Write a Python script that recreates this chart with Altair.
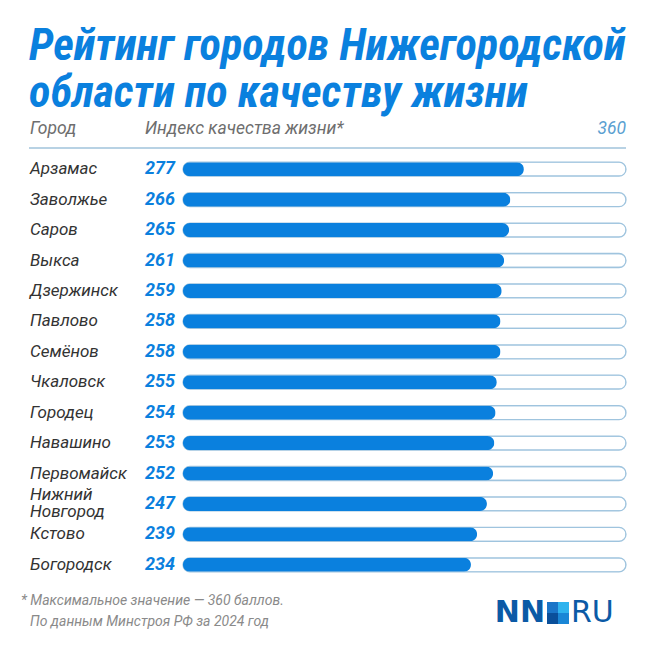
import altair as alt
import pandas as pd

# Quality-of-life index for towns of the Nizhny Novgorod region
cities = ["Арзамас", "Заволжье", "Саров", "Выкса", "Дзержинск", "Павлово", "Семёнов",
          "Чкаловск", "Городец", "Навашино", "Первомайск", "Нижний Новгород", "Кстово", "Богородск"]
labels = ["Арзамас", "Заволжье", "Саров", "Выкса", "Дзержинск", "Павлово", "Семёнов",
          "Чкаловск", "Городец", "Навашино", "Первомайск", "Нижний\nНовгород", "Кстово", "Богородск"]
values = [277, 266, 265, 261, 259, 258, 258, 255, 254, 253, 252, 247, 239, 234]
max_value = 360

title_lines = ["Рейтинг городов Нижегородской", "области по качеству жизни"]
footnotes = ["* Максимальное значение — 360 баллов.", "По данным Минстроя РФ за 2024 год"]

BLUE = "#0a80de"
FONT = "Roboto"
TITLE_FONT = "Liberation Sans Narrow, Roboto Condensed, Roboto"

df = pd.DataFrame({"city": cities, "label": labels, "value": values, "max": max_value})
df["lines"] = df["label"].str.count("\n") + 1

W, H = 443, 426
y = alt.Y("city:N", sort=cities, axis=None, scale=alt.Scale(paddingInner=0, paddingOuter=0))
x_scale = alt.Scale(domain=[0, max_value], nice=False, zero=True)

base = alt.Chart(df)

track = base.mark_bar(size=14, cornerRadius=7, fill="white", stroke="#9fc4de", strokeWidth=1.3).encode(
    x=alt.X("max:Q", scale=x_scale, axis=None), x2=alt.value(0), y=y
)
bars = base.mark_bar(size=14, cornerRadius=7, color=BLUE).encode(
    x=alt.X("value:Q", scale=x_scale, axis=None), x2=alt.value(0), y=y
)
value_text = base.mark_text(align="right", baseline="middle", font=FONT, fontSize=18,
                            fontWeight="bold", fontStyle="italic", color=BLUE).encode(
    x=alt.value(-8), y=y, text=alt.Text("value:Q")
)
city_style = dict(align="left", baseline="middle", font=FONT, fontSize=17, fontStyle="italic",
                  color="#333333", lineBreak="\n", lineHeight=17)
city_text = base.transform_filter("datum.lines == 1").mark_text(**city_style).encode(
    x=alt.value(-153), y=y, text="label:N"
)
# two-line name, shifted up so the block is centred on its row
city_text2 = base.transform_filter("datum.lines == 2").mark_text(dy=-8.5, **city_style).encode(
    x=alt.value(-153), y=y, text="label:N"
)

def txt(text, x, yv, size, color, align="left", weight="normal", style="italic",
        baseline="middle", font=FONT):
    return alt.Chart(pd.DataFrame({"t": [text]})).mark_text(
        align=align, baseline=baseline, font=font, fontSize=size, fontWeight=weight,
        fontStyle=style, color=color
    ).encode(x=alt.value(x), y=alt.value(yv), text="t:N")

title1 = txt(title_lines[0], -154, -94, 44.4, BLUE, weight="bold", baseline="alphabetic", font=TITLE_FONT)
title2 = txt(title_lines[1], -154, -47, 44.4, BLUE, weight="bold", baseline="alphabetic", font=TITLE_FONT)
head_city = txt("Город", -153, -25, 17.5, "#6e6e6e")
head_index = txt("Индекс качества жизни*", -38, -25, 17.5, "#6e6e6e")
head_max = txt(str(max_value), W, -25, 17.5, "#5b9fd1", align="right")

header_rule = alt.Chart(pd.DataFrame({"a": [0]})).mark_rule(color="#b8d2e4", strokeWidth=2).encode(
    x=alt.value(-154), x2=alt.value(W), y=alt.value(-6)
)

foot1 = txt(footnotes[0], -162, 447, 14, "#8a8a8a")
foot2 = txt(footnotes[1], -153, 468, 14, "#8a8a8a")

# NN.RU logo: wordmark plus a four-colour square
logo_nn = txt("NN", 362, 459, 30, "#0b5aa6", align="right", weight="bold", style="normal",
              font="DejaVu Sans")
logo_ru = txt("RU", 388, 459, 30, "#0b5aa6", weight="normal", style="normal", font="DejaVu Sans")
squares = pd.DataFrame({
    "x": [364, 375, 364, 375], "y": [448, 448, 459, 459],
    "c": ["#1a75c8", "#2fb3ee", "#0a4f9a", "#1a86d6"],
})
logo_sq = alt.layer(*[
    alt.Chart(pd.DataFrame({"a": [0]})).mark_rect(color=row.c).encode(
        x=alt.value(row.x), x2=alt.value(row.x + 11), y=alt.value(row.y), y2=alt.value(row.y + 11)
    ) for row in squares.itertuples()
])

chart = alt.layer(
    track, bars, value_text, city_text, city_text2, title1, title2, head_city, head_index,
    head_max, header_rule, foot1, foot2, logo_nn, logo_ru, logo_sq
).properties(
    width=W, height=H,
    autosize=alt.AutoSizeParams(type="none"),
    padding={"left": 183, "top": 154, "right": 30, "bottom": 76},
    background="white",
).configure_view(stroke=None)

chart.save("out.html", embed_options={"renderer": "svg", "actions": False})
